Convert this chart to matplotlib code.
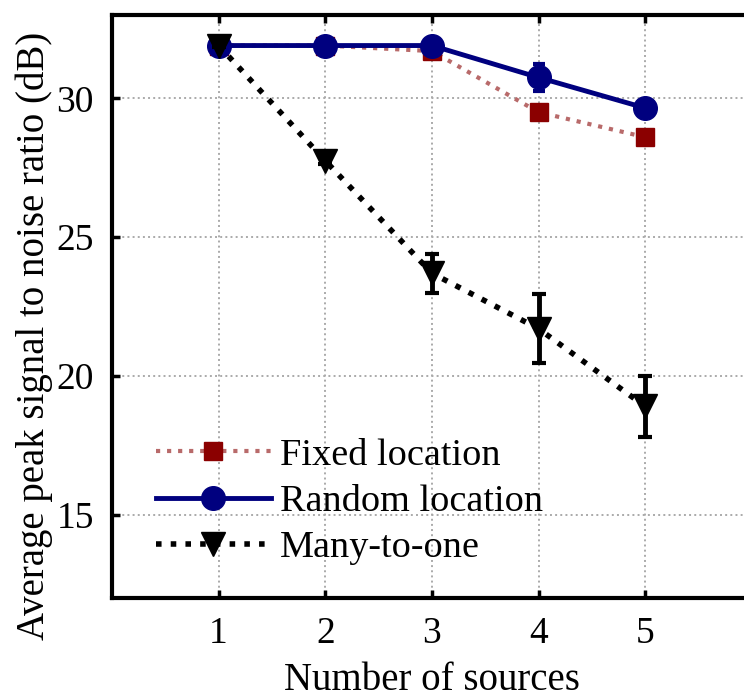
import matplotlib.pyplot as plt
from matplotlib.lines import Line2D

plt.rcParams["font.family"] = ["Liberation Serif", "DejaVu Serif"]

sources = [1, 2, 3, 4, 5]
fixed_psnr = [31.9, 31.9, 31.7, 29.5, 28.6]
fixed_err = [0.05, 0.05, 0.1, 0.2, 0.15]
random_psnr = [31.9, 31.9, 31.9, 30.75, 29.65]
random_err = [0.05, 0.05, 0.1, 0.5, 0.15]
many_psnr = [31.9, 27.75, 23.7, 21.7, 18.9]
many_err = [0.05, 0.1, 0.7, 1.25, 1.1]

x_ticks = [1, 2, 3, 4, 5]
y_ticks = [15, 20, 25, 30]

COLOR_FIXED = "#8b0000"
COLOR_FIXED_LINE = "#b86a6a"
COLOR_RANDOM = "#00007f"
COLOR_MANY = "#000000"

fig = plt.figure(figsize=(7.44, 6.98), dpi=100)
ax = fig.add_axes([0.1505, 0.1433, 0.860, 0.8352])

styles = {
    "fixed": dict(color=COLOR_FIXED_LINE, linestyle=":", linewidth=3,
                  marker="s", markersize=13, mfc=COLOR_FIXED, mec=COLOR_FIXED),
    "random": dict(color=COLOR_RANDOM, linestyle="-", linewidth=3.5,
                   marker="o", markersize=17, mfc=COLOR_RANDOM, mec=COLOR_RANDOM),
    "many": dict(color=COLOR_MANY, linestyle=":", linewidth=4,
                 marker="v", markersize=17, mfc=COLOR_MANY, mec=COLOR_MANY),
}

ax.errorbar(sources, fixed_psnr, yerr=fixed_err, ecolor=COLOR_FIXED, capsize=4,
            elinewidth=3, zorder=3, **styles["fixed"])
ax.errorbar(sources, random_psnr, yerr=random_err, ecolor=COLOR_RANDOM, capsize=4,
            elinewidth=3.5, capthick=3, zorder=4, **styles["random"])
ax.errorbar(sources, many_psnr, yerr=many_err, ecolor=COLOR_MANY, capsize=5,
            elinewidth=3.5, capthick=3, zorder=5, **styles["many"])

ax.set_xlim(0, 6)
ax.set_ylim(12, 33)
ax.set_xticks(x_ticks)
ax.set_yticks(y_ticks)
ax.grid(True, color="#aaaaaa", linestyle=":", linewidth=1.4)
ax.set_axisbelow(True)

for side in ["left", "bottom", "top", "right"]:
    ax.spines[side].set_linewidth(3)
ax.tick_params(direction="in", length=6, width=2.5, labelsize=27, pad=13,
               top=True, right=False)

ax.set_xlabel("Number of sources", fontsize=28, labelpad=8)
ax.set_ylabel("Average peak signal to noise ratio (dB)", fontsize=28)
ax.yaxis.set_label_coords(-0.092, 0.449)

handles = [Line2D([], [], **styles["fixed"]),
           Line2D([], [], **styles["random"]),
           Line2D([], [], **styles["many"])]
labels = ["Fixed location", "Random location", "Many-to-one"]
ax.legend(handles, labels, loc="lower left", bbox_to_anchor=(0.045, 0.03),
          frameon=False, fontsize=27.5, handlelength=3.0, handletextpad=0.25,
          labelspacing=0.3, borderaxespad=0)

fig.savefig("out.png", dpi=100)
